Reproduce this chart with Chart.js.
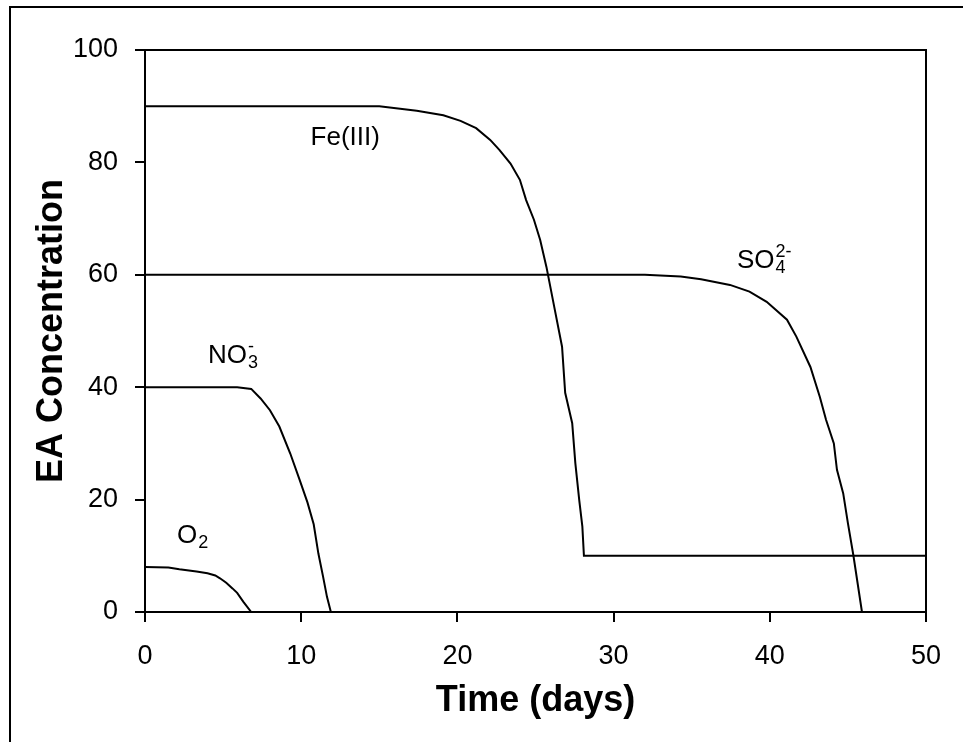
<!DOCTYPE html>
<html><head><meta charset="utf-8">
<script src="https://cdn.jsdelivr.net/npm/chart.js@4/dist/chart.umd.min.js"></script>
<style>html,body{margin:0;padding:0;background:#fff;overflow:hidden;} canvas{display:block;}</style>
</head><body>
<canvas id="c" width="963" height="742"></canvas>
<script>
// ---- data ----
const xTickValues = [0, 10, 20, 30, 40, 50];
const yTickValues = [0, 20, 40, 60, 80, 100];

const o2Days  = [0, 1.5, 2.2, 3.3, 4.0, 4.5, 4.8, 5.2, 5.6, 5.9, 6.3, 6.8];
const o2Vals  = [8.0, 7.9, 7.6, 7.2, 6.9, 6.5, 6.0, 5.2, 4.2, 3.4, 1.8, 0];

const no3Days = [0, 5.9, 6.8, 7.4, 8.0, 8.6, 9.3, 9.9, 10.4, 10.8, 11.1, 11.4, 11.65, 11.9];
const no3Vals = [40, 40, 39.7, 38.0, 35.9, 33.0, 28.2, 23.5, 19.5, 15.6, 10.4, 6.3, 2.7, 0];

const feDays  = [0, 15.0, 17.4, 19.1, 20.2, 21.2, 22.1, 22.7, 23.4, 24.0, 24.4, 24.9, 25.3, 25.7, 26.2, 26.7, 26.9, 27.35, 27.55, 27.8, 28.0, 28.1, 50];
const feVals  = [90, 90, 89.2, 88.4, 87.4, 86.1, 84.0, 82.2, 79.8, 76.9, 73.3, 69.8, 66.2, 61.4, 54.3, 47.2, 39.0, 33.6, 26.5, 19.9, 15.2, 10, 10];

const so4Days = [0, 32.0, 34.3, 35.6, 37.45, 38.7, 39.8, 41.1, 41.7, 42.6, 43.2, 43.6, 44.1, 44.3, 44.7, 45.0, 45.35, 45.9];
const so4Vals = [60, 60, 59.7, 59.2, 58.2, 57.0, 55.2, 52.0, 49.0, 43.6, 38.3, 34.2, 30.0, 25.3, 21.1, 15.8, 10.1, 0];

const seriesNames = ['O2', 'NO3-', 'Fe(III)', 'SO42-'];
const labelMain = ['O', 'NO', 'Fe(III)', 'SO'];
const labelSub  = ['2', '3', '', '4'];
const labelSup  = ['', '-', '', '2-'];
// label anchors (data units: day, concentration) - left / baseline
const labelAnchorX = [2.05, 4.03, 10.6, 37.9];
const labelAnchorY = [12.3, 44.3, 83.1, 61.2];

const toPts = (xs, ys) => xs.map((x, i) => ({x: x, y: ys[i]}));

const SANS = "'Liberation Sans', Arial, sans-serif";

const framePlugin = {
  id: 'frame',
  beforeDraw(chart) {
    const c = chart.ctx;
    c.save(); c.fillStyle = '#fff'; c.fillRect(0, 0, chart.width, chart.height); c.restore();
  },
  afterDraw(chart) {
    const {ctx, chartArea: a} = chart;
    ctx.save();
    ctx.strokeStyle = '#000';
    ctx.lineWidth = 2;
    ctx.beginPath();
    ctx.moveTo(a.left, a.top); ctx.lineTo(a.right, a.top); ctx.lineTo(a.right, a.bottom);
    ctx.stroke();
    ctx.beginPath();
    ctx.moveTo(10, chart.height); ctx.lineTo(10, 7); ctx.lineTo(chart.width, 7);
    ctx.stroke();
    // series labels
    const xs = chart.scales.x, ys = chart.scales.y;
    ctx.fillStyle = '#000';
    ctx.textBaseline = 'alphabetic';
    ctx.textAlign = 'left';
    for (let i = 0; i < labelMain.length; i++) {
      const px = xs.getPixelForValue(labelAnchorX[i]);
      const py = ys.getPixelForValue(labelAnchorY[i]);
      ctx.font = '26px ' + SANS;
      ctx.fillText(labelMain[i], px, py);
      const w = ctx.measureText(labelMain[i]).width;
      ctx.font = '18px ' + SANS;
      if (labelSub[i]) ctx.fillText(labelSub[i], px + w + 1, py + 5);
      if (labelSup[i]) ctx.fillText(labelSup[i], px + w + 1, py - 11);
    }
    ctx.restore();
  }
};

const lineStyle = {showLine: true, pointRadius: 0, borderColor: '#000', borderWidth: 2, fill: false, tension: 0};

new Chart(document.getElementById('c'), {
  type: 'scatter',
  data: {
    datasets: [
      Object.assign({label: seriesNames[0], data: toPts(o2Days, o2Vals)}, lineStyle),
      Object.assign({label: seriesNames[1], data: toPts(no3Days, no3Vals)}, lineStyle),
      Object.assign({label: seriesNames[2], data: toPts(feDays, feVals)}, lineStyle),
      Object.assign({label: seriesNames[3], data: toPts(so4Days, so4Vals)}, lineStyle)
    ]
  },
  options: {
    responsive: false,
    animation: false,
    events: [],
    layout: {padding: {left: 0, top: 50, right: 37, bottom: 0}},
    plugins: {legend: {display: false}, tooltip: {enabled: false}},
    scales: {
      x: {
        type: 'linear', min: 0, max: 50,
        afterBuildTicks(s) { s.ticks = xTickValues.map(v => ({value: v})); },
        afterFit(s) { s.height = 130; },
        grid: {drawOnChartArea: false, drawTicks: true, tickLength: 10, color: '#000', lineWidth: 2},
        border: {display: true, color: '#000', width: 2},
        ticks: {color: '#000', padding: 18, maxRotation: 0, font: {family: SANS, size: 27}},
        title: {display: true, text: 'Time (days)', color: '#000', padding: {top: 0, bottom: 19},
                font: {family: SANS, size: 36, weight: 'bold'}}
      },
      y: {
        type: 'linear', min: 0, max: 100,
        afterBuildTicks(s) { s.ticks = yTickValues.map(v => ({value: v})); },
        afterFit(s) { s.width = 145; },
        grid: {drawOnChartArea: false, drawTicks: true, tickLength: 10, color: '#000', lineWidth: 2},
        border: {display: true, color: '#000', width: 2},
        ticks: {color: '#000', padding: 17, font: {family: SANS, size: 27}},
        title: {display: true, text: 'EA Concentration', color: '#000', padding: {top: 30, bottom: 0},
                font: {family: SANS, size: 36, weight: 'bold'}}
      }
    }
  },
  plugins: [framePlugin]
});
</script>
</body></html>
